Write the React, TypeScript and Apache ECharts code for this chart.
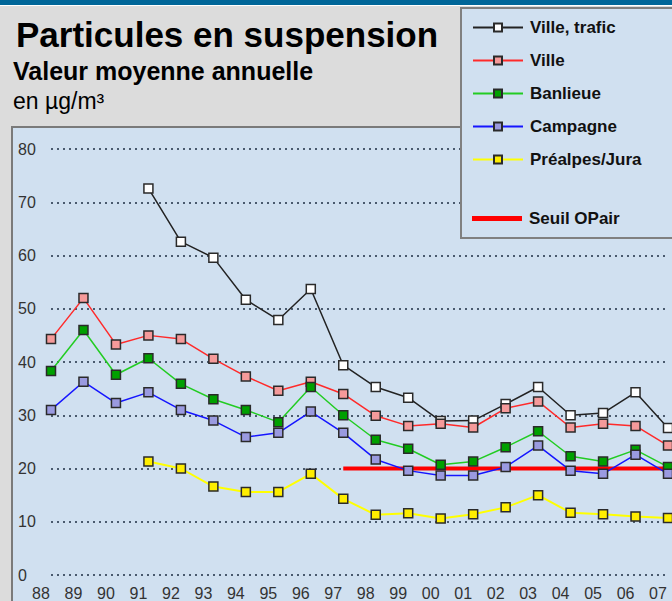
import React, { useEffect, useRef } from "react";
import * as echarts from "echarts";

const years = ["88","89","90","91","92","93","94","95","96","97","98","99","00","01","02","03","04","05","06","07"];
const villeTrafic = [null,null,null,72.6,62.6,59.6,51.7,47.9,53.7,39.4,35.3,33.3,28.9,29.0,32.1,35.3,30.0,30.4,34.3,27.6];
const ville = [44.3,52.0,43.3,45.0,44.3,40.6,37.3,34.6,36.3,34.0,29.9,28.0,28.4,27.7,31.3,32.6,27.7,28.4,28.0,24.3];
const banlieue = [38.3,46.0,37.6,40.7,35.9,33.0,31.0,28.7,35.3,30.0,25.4,23.7,20.7,21.3,24.0,27.0,22.3,21.3,23.5,20.3];
const campagne = [31.0,36.3,32.3,34.3,31.0,29.0,25.9,26.7,30.7,26.7,21.7,19.6,18.7,18.7,20.3,24.3,19.6,19.0,22.6,19.0];
const prealpes = [null,null,null,21.3,20.0,16.6,15.6,15.6,19.0,14.3,11.3,11.6,10.6,11.4,12.7,15.0,11.7,11.4,11.0,10.7];
const seuil = [null,null,null,null,null,null,null,null,null,20,20,20,20,20,20,20,20,20,20,20];
const yTicks = { min: 0, max: 80, interval: 10 };

const FONT = "'Liberation Sans', Arial, sans-serif";

function lineSeries(name: string, data: (number | null)[], color: string, fill: string, width = 1.5) {
  return {
    name,
    type: "line",
    data,
    symbol: "rect",
    symbolSize: 9,
    showAllSymbol: true,
    connectNulls: false,
    lineStyle: { color, width },
    itemStyle: { color: fill, borderColor: "#2a2a2a", borderWidth: 1.5 },
    emphasis: { disabled: true },
  };
}

export default function App() {
  const ref = useRef<HTMLDivElement>(null);
  useEffect(() => {
    if (!ref.current) return;
    const chart = echarts.init(ref.current, null, { renderer: "svg" });
    const legendText = { fontFamily: FONT, fontSize: 17, fontWeight: "bold", color: "#111", lineHeight: 17, padding: [0, 0, 0, 2] };
    chart.setOption({
      animation: false,
      backgroundColor: "#dcdcdc",
      graphic: [
        { type: "rect", z: -10, shape: { x: 0, y: 0, width: 672, height: 5 }, style: { fill: "#006699" } },
        { type: "rect", z: -10, shape: { x: 0, y: 5, width: 672, height: 1 }, style: { fill: "#ffffff" } },
        { type: "rect", z: -9, shape: { x: 12, y: 127, width: 670, height: 480 }, style: { fill: "#d0e0f0", stroke: "#7a7a7a", lineWidth: 2 } },
        { type: "rect", z: 3, shape: { x: 461, y: 8, width: 220, height: 230 }, style: { fill: "#d0e0f0", stroke: "#808080", lineWidth: 2 } },
        { type: "text", z: 5, x: 16, y: 17, style: { text: "Particules en suspension", font: `bold 35px ${FONT}`, fill: "#000", verticalAlign: "top" } },
        { type: "text", z: 5, x: 13, y: 58, style: { text: "Valeur moyenne annuelle", font: `bold 25px ${FONT}`, fill: "#000", verticalAlign: "top" } },
        { type: "text", z: 5, x: 13, y: 89, style: { text: "en µg/m³", font: `23px ${FONT}`, fill: "#000", verticalAlign: "top" } },
      ],
      legend: [
        {
          data: ["Ville, trafic", "Ville", "Banlieue", "Campagne", "Préalpes/Jura"],
          orient: "vertical",
          left: 467,
          top: 14,
          itemWidth: 50,
          itemHeight: 10,
          itemGap: 16,
          selectedMode: false,
          textStyle: legendText,
          z: 4,
        },
        {
          data: [{ name: "Seuil OPair", icon: "rect" }],
          orient: "vertical",
          left: 467,
          top: 205,
          itemWidth: 50,
          itemHeight: 5,
          selectedMode: false,
          textStyle: legendText,
          z: 4,
        },
      ],
      grid: { left: 51, right: 4, top: 149, bottom: 23, containLabel: false },
      xAxis: {
        type: "category",
        data: years,
        boundaryGap: false,
        axisLine: { show: false },
        axisTick: { show: false },
        axisLabel: { fontFamily: FONT, fontSize: 16, color: "#333", margin: 10, padding: [0, 20, 0, 0], interval: 0 },
        splitLine: { show: false },
      },
      yAxis: {
        type: "value",
        min: yTicks.min,
        max: yTicks.max,
        interval: yTicks.interval,
        axisLine: { show: false },
        axisTick: { show: false },
        axisLabel: { fontFamily: FONT, fontSize: 16, color: "#333", margin: 33, align: "left" },
        splitLine: { show: true, lineStyle: { color: "#4a5a6e", width: 2, type: [2, 4] } },
      },
      series: [
        lineSeries("Ville, trafic", villeTrafic, "#222222", "#ffffff"),
        lineSeries("Ville", ville, "#ff2a2a", "#f59a9a"),
        lineSeries("Banlieue", banlieue, "#22cc22", "#00a000"),
        lineSeries("Campagne", campagne, "#1515ff", "#9a9ae0"),
        lineSeries("Préalpes/Jura", prealpes, "#ffff00", "#ffee00", 2),
        {
          name: "Seuil OPair",
          type: "line",
          data: seuil,
          symbol: "none",
          lineStyle: { color: "#ff0000", width: 4 },
          itemStyle: { color: "#ff0000" },
          z: 1,
          emphasis: { disabled: true },
        },
      ],
    });
    return () => chart.dispose();
  }, []);
  return <div ref={ref} style={{ position: "fixed", left: 0, top: 0, width: 672, height: 601 }} />;
}
